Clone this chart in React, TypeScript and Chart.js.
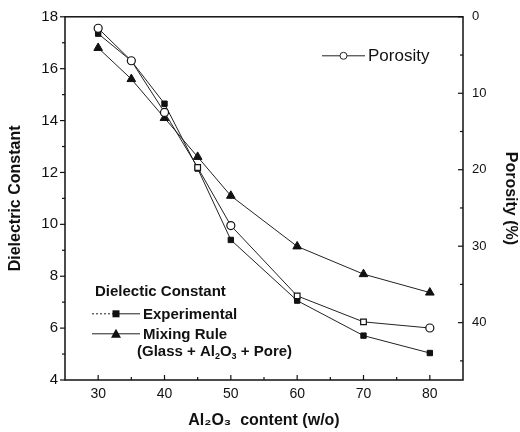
import React, { useEffect, useRef } from 'react';
import { Chart, registerables } from 'chart.js';

Chart.register(...registerables);

// ---- data ----
const alumina = [30, 35, 40, 45, 50, 60, 70, 80];
const experimental = [17.35, 16.3, 14.65, 12.15, 9.4, 7.06, 5.71, 5.04];
const mixingRule = [16.8, 15.6, 14.1, 12.6, 11.1, 9.15, 8.08, 7.37];
const porosity = [1.5, 5.75, 12.5, 19.7, 27.3, 36.5, 39.9, 40.7];

const xTicks = [30, 40, 50, 60, 70, 80];
const xMinor = [35, 45, 55, 65, 75];
const dielectricTicks = [4, 6, 8, 10, 12, 14, 16, 18];
const dielectricMinor = [5, 7, 9, 11, 13, 15, 17];
const porosityTicks = [0, 10, 20, 30, 40];
const porosityMinor = [5, 15, 25, 35, 45];

const FONT = "'Liberation Sans', Arial, Helvetica, sans-serif";
const INK = '#111';

type Part = [string, boolean];

function drawRich(ctx: CanvasRenderingContext2D, parts: Part[], x: number, y: number, size: number) {
  let cx = x;
  for (const [t, sub] of parts) {
    ctx.font = `bold ${sub ? Math.round(size * 0.62) : size}px ${FONT}`;
    ctx.fillText(t, cx, sub ? y + size * 0.3 : y);
    cx += ctx.measureText(t).width;
  }
}

const framePlugin = {
  id: 'framePlugin',
  afterDraw(chart: any) {
    const { ctx, chartArea: ca, scales } = chart;
    ctx.save();
    ctx.strokeStyle = INK;
    ctx.fillStyle = INK;
    ctx.lineWidth = 1.5;
    ctx.strokeRect(ca.left, ca.top, ca.right - ca.left, ca.bottom - ca.top);

    ctx.lineWidth = 1.2;
    const seg = (x1: number, y1: number, x2: number, y2: number) => {
      ctx.beginPath();
      ctx.moveTo(x1, y1);
      ctx.lineTo(x2, y2);
      ctx.stroke();
    };
    // bottom ticks (inward)
    xTicks.forEach(v => { const p = scales.x.getPixelForValue(v); seg(p, ca.bottom, p, ca.bottom - 5); });
    xMinor.forEach(v => { const p = scales.x.getPixelForValue(v); seg(p, ca.bottom, p, ca.bottom - 3); });
    // left ticks (outward)
    dielectricTicks.forEach(v => { const p = scales.y.getPixelForValue(v); seg(ca.left, p, ca.left - 5, p); });
    dielectricMinor.forEach(v => { const p = scales.y.getPixelForValue(v); seg(ca.left, p, ca.left - 3, p); });
    // right ticks (inward)
    porosityTicks.forEach(v => { const p = scales.y2.getPixelForValue(v); seg(ca.right, p, ca.right - 5, p); });
    porosityMinor.forEach(v => { const p = scales.y2.getPixelForValue(v); seg(ca.right, p, ca.right - 3, p); });

    // ---- legends ----
    ctx.lineWidth = 1;
    ctx.strokeStyle = '#222';
    ctx.textBaseline = 'middle';
    ctx.textAlign = 'left';

    // Porosity legend (top right)
    const py = ca.top + 39;
    const px0 = ca.left + 257;
    const px1 = ca.left + 300;
    seg(px0, py, px1, py);
    ctx.beginPath();
    ctx.arc((px0 + px1) / 2, py, 3.5, 0, Math.PI * 2);
    ctx.fillStyle = '#fff';
    ctx.fill();
    ctx.stroke();
    ctx.fillStyle = INK;
    ctx.font = `17px ${FONT}`;
    ctx.fillText('Porosity', px1 + 3, py + 1);

    // Dielectric legend (bottom left)
    const lx = ca.left + 30;
    ctx.font = `bold 15px ${FONT}`;
    ctx.fillText('Dielectic Constant', lx, ca.top + 275);

    const ey = ca.top + 297;
    const l0 = ca.left + 27;
    const l1 = ca.left + 75;
    ctx.setLineDash([2, 2]);
    seg(l0, ey, (l0 + l1) / 2, ey);
    ctx.setLineDash([]);
    seg((l0 + l1) / 2, ey, l1, ey);
    ctx.fillRect((l0 + l1) / 2 - 3.5, ey - 3.5, 7, 7);
    ctx.font = `bold 15px ${FONT}`;
    ctx.fillText('Experimental', l1 + 3, ey + 1);

    const my = ca.top + 317;
    seg(l0, my, l1, my);
    const mc = (l0 + l1) / 2;
    ctx.beginPath();
    ctx.moveTo(mc, my - 5);
    ctx.lineTo(mc + 5, my + 4);
    ctx.lineTo(mc - 5, my + 4);
    ctx.closePath();
    ctx.fill();
    ctx.fillText('Mixing Rule', l1 + 3, my + 1);

    drawRich(ctx, [['(Glass + Al', false], ['2', true], ['O', false], ['3', true], [' + Pore)', false]], ca.left + 72, ca.top + 335, 15);

    ctx.restore();
  },
};

export default function App() {
  const ref = useRef<HTMLCanvasElement | null>(null);

  useEffect(() => {
    if (!ref.current) return;
    const tickFont = (size: number) => ({ family: FONT, size });
    const titleFont = { family: FONT, size: 16, weight: 'bold' as const };

    const chart = new Chart(ref.current, {
      type: 'line',
      data: {
        datasets: [
          {
            label: 'Porosity',
            data: alumina.map((x, i) => ({ x, y: porosity[i] })),
            yAxisID: 'y2',
            borderColor: '#222',
            borderWidth: 1,
            pointStyle: ['circle', 'circle', 'circle', 'rect', 'circle', 'rect', 'rect', 'circle'],
            pointRadius: 4,
            pointBackgroundColor: '#fff',
            pointBorderColor: INK,
            pointBorderWidth: 1.2,
            tension: 0,
          },
          {
            label: 'Experimental',
            data: alumina.map((x, i) => ({ x, y: experimental[i] })),
            yAxisID: 'y',
            borderColor: '#222',
            borderWidth: 1,
            pointStyle: 'rect',
            pointRadius: 3.8,
            pointBackgroundColor: INK,
            pointBorderColor: INK,
            tension: 0,
          },
          {
            label: 'Mixing Rule',
            data: alumina.map((x, i) => ({ x, y: mixingRule[i] })),
            yAxisID: 'y',
            borderColor: '#222',
            borderWidth: 1,
            pointStyle: 'triangle',
            pointRadius: 5,
            pointBackgroundColor: INK,
            pointBorderColor: INK,
            tension: 0,
          },
        ],
      },
      options: {
        animation: false,
        responsive: true,
        maintainAspectRatio: false,
        layout: { padding: { top: 14, left: 0, right: 0, bottom: 0 } },
        plugins: { legend: { display: false }, tooltip: { enabled: false } },
        scales: {
          x: {
            type: 'linear',
            position: 'bottom',
            min: 25,
            max: 85,
            afterBuildTicks: (s: any) => { s.ticks = xTicks.map(v => ({ value: v })); },
            afterFit: (s: any) => { s.height = 52; },
            grid: { display: false, drawTicks: false },
            border: { display: false },
            ticks: { font: tickFont(14), color: INK, padding: 6 },
            title: { display: true, text: 'Al₂O₃  content (w/o)', font: titleFont, color: INK, padding: { top: 0, bottom: 2 } },
          },
          y: {
            type: 'linear',
            position: 'left',
            min: 4,
            max: 18,
            afterBuildTicks: (s: any) => { s.ticks = dielectricTicks.map(v => ({ value: v })); },
            afterFit: (s: any) => { s.width = 65; },
            grid: { display: false, drawTicks: false },
            border: { display: false },
            ticks: { font: tickFont(15), color: INK, padding: 7 },
            title: { display: true, text: 'Dielectric Constant', font: titleFont, color: INK, padding: { top: 6, bottom: 0 } },
          },
          y2: {
            type: 'linear',
            position: 'right',
            min: 0,
            max: 47.5,
            reverse: true,
            afterBuildTicks: (s: any) => { s.ticks = porosityTicks.map(v => ({ value: v })); },
            afterFit: (s: any) => { s.width = 57; },
            grid: { display: false, drawTicks: false },
            border: { display: false },
            ticks: { font: tickFont(13), color: INK, padding: 9 },
            title: { display: true, text: 'Porosity (%)', font: titleFont, color: INK, padding: { top: 0, bottom: 0 } },
          },
        },
      },
      plugins: [framePlugin],
    } as any);

    return () => chart.destroy();
  }, []);

  return (
    <div style={{ position: 'fixed', left: 0, top: 0, width: 520, height: 432, background: '#fff' }}>
      <canvas ref={ref} />
    </div>
  );
}
